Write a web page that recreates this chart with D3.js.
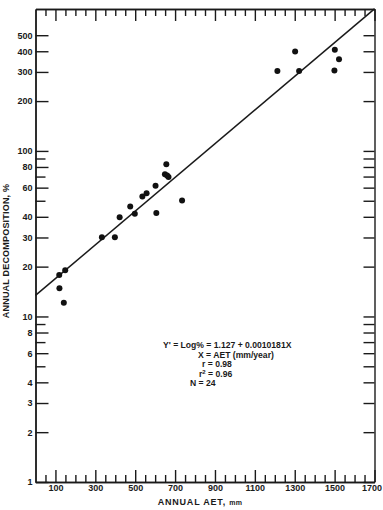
<!DOCTYPE html>
<html>
<head>
<meta charset="utf-8">
<script src="https://cdn.jsdelivr.net/npm/d3@7"></script>
<style>
  body { margin: 0; background: #fff; }
  svg text { font-family: "Liberation Sans", Arial, sans-serif; fill: #1a1a1a; }
  .axis path, .axis line { stroke: #1a1a1a; stroke-width: 1.4; }
  .axis text { font-size: 9px; font-weight: bold; }
</style>
</head>
<body>
<script>
// annual AET (mm) and annual decomposition (%), N = 24
var aet    = [119, 149, 120, 142, 333, 398, 422, 475, 498, 536, 557, 602,
              606, 656, 649, 667, 735, 660, 1213, 1302, 1322, 1501, 1522, 1499];
var decomp = [17.8, 19.0, 14.8, 12.1, 30.1, 30.1, 39.7, 46.1, 41.8, 53.0, 55.5, 61.7,
              42.2, 83.1, 72.3, 69.6, 50.1, 71.0, 304, 398, 304, 409, 358, 306];

// regression Y' = log% = a + b*X
var fitA = 1.127, fitB = 0.0010181;

var xLabels = [100, 300, 500, 700, 900, 1100, 1300, 1500, 1700];
var yLabels = [1, 2, 3, 4, 6, 8, 10, 20, 30, 40, 60, 80, 100, 200, 300, 400, 500];
var yMinor  = [5, 7, 9, 50, 70, 90];

var eqLines = ["Y' = Log% = 1.127 + 0.0010181X", "X = AET (mm/year)", "r = 0.98", "r2 = 0.96", "N = 24"];

var width = 383, height = 510;
var pLeft = 35.5, pRight = 374.5, pTop = 9, pBottom = 482;

var svg = d3.select("body").append("svg")
  .attr("width", width)
  .attr("height", height);

var x = d3.scaleLinear().domain([0, 1700]).range([pLeft, pRight]);
var y = d3.scaleLog().domain([1, 720]).range([pBottom, pTop]);

var xMinor = d3.range(50, 1700, 50).filter(function(d){ return xLabels.indexOf(d) < 0; });

// bottom axis, labelled ticks long, others short
var xAxisG = svg.append("g").attr("class", "x axis")
  .attr("transform", "translate(0," + pBottom + ")")
  .call(d3.axisBottom(x).tickValues(xLabels).tickSize(-12).tickSizeOuter(0).tickPadding(3)
    .tickFormat(d3.format("d")));
// keep the last label inside the page
xAxisG.selectAll("text").filter(function(d){ return d === 1700; }).attr("dx", -3);

svg.append("g").attr("class", "x axis")
  .attr("transform", "translate(0," + pBottom + ")")
  .call(d3.axisBottom(x).tickValues(xMinor).tickSize(-7).tickSizeOuter(0).tickFormat(""));

// top ticks
svg.append("g").attr("class", "x axis")
  .attr("transform", "translate(0," + pTop + ")")
  .call(d3.axisTop(x).tickValues(xLabels).tickSize(-12).tickSizeOuter(0).tickFormat(""));
svg.append("g").attr("class", "x axis")
  .attr("transform", "translate(0," + pTop + ")")
  .call(d3.axisTop(x).tickValues(xMinor).tickSize(-7).tickSizeOuter(0).tickFormat(""));

// left axis
svg.append("g").attr("class", "y axis")
  .attr("transform", "translate(" + pLeft + ",0)")
  .call(d3.axisLeft(y).tickValues(yLabels).tickSize(-13).tickSizeOuter(0).tickPadding(3)
    .tickFormat(d3.format("d")));
svg.append("g").attr("class", "y axis")
  .attr("transform", "translate(" + pLeft + ",0)")
  .call(d3.axisLeft(y).tickValues(yMinor).tickSize(-10).tickSizeOuter(0).tickFormat(""));

// right ticks
svg.append("g").attr("class", "y axis")
  .attr("transform", "translate(" + pRight + ",0)")
  .call(d3.axisRight(y).tickValues(yLabels.concat(yMinor)).tickSize(-11).tickSizeOuter(0).tickFormat(""));

svg.selectAll(".axis text").attr("fill", "#1a1a1a");

// regression line
var fitX = x.domain();
svg.append("path")
  .datum(fitX)
  .attr("fill", "none")
  .attr("stroke", "#1a1a1a")
  .attr("stroke-width", 1.5)
  .attr("d", d3.line()
    .x(function(d){ return x(d); })
    .y(function(d){ return y(Math.pow(10, fitA + fitB * d)); }));

// points
svg.selectAll("circle.pt")
  .data(aet)
  .enter()
  .append("circle")
  .attr("class", "pt")
  .attr("cx", function(d){ return x(d); })
  .attr("cy", function(d, i){ return y(decomp[i]); })
  .attr("r", 3)
  .attr("fill", "#111");

// equation block
var eqX = [163, 198, 202, 199, 190];
var eq = svg.append("g").attr("font-size", 8.6).attr("font-weight", "bold");
eqLines.forEach(function(t, i){
  var tx = eq.append("text").attr("x", eqX[i]).attr("y", 348 + i * 9.6);
  if (t.indexOf("r2") === 0) {
    tx.append("tspan").text("r");
    tx.append("tspan").attr("dy", -3).attr("font-size", 6).text("2");
    tx.append("tspan").attr("dy", 3).text(t.slice(2));
  } else {
    tx.text(t);
  }
});

// axis titles
svg.append("text")
  .attr("x", 200).attr("y", 505)
  .attr("text-anchor", "middle")
  .attr("font-size", 9).attr("font-weight", "bold")
  .attr("letter-spacing", 0.8)
  .text("ANNUAL AET, ")
  .append("tspan").attr("font-size", 7).attr("letter-spacing", 0.3).text("mm");

svg.append("text")
  .attr("transform", "translate(9,251) rotate(-90)")
  .attr("text-anchor", "middle")
  .attr("font-size", 9).attr("font-weight", "bold")
  .attr("letter-spacing", 0.2)
  .text("ANNUAL DECOMPOSITION, %");
</script>
</body>
</html>
